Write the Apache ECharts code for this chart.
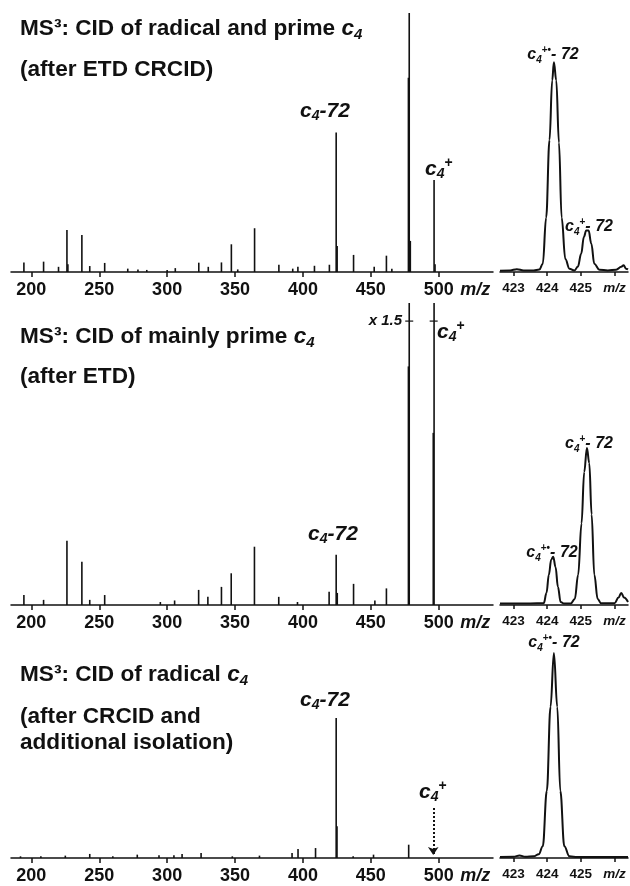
<!DOCTYPE html>
<html>
<head>
<meta charset="utf-8">
<title>MS3 CID of c4 ions</title>
<script src="https://cdn.jsdelivr.net/npm/echarts@6/dist/echarts.min.js"></script>
<style>
  html, body { margin: 0; padding: 0; background: #fff; }
  #main { width: 630px; height: 886px; }
</style>
</head>
<body>
<div id="main"></div>
<script type="text/javascript">
// tick labels
var mainTicks = [200, 250, 300, 350, 400, 450, 500];
var mainUnitAt = 527;              // "m/z" written after 500
var zoomTicks = [423, 424, 425, 426];  // 426 is written as "m/z"

// panel 1: CID of radical and prime c4 (after ETD CRCID)
var p1Mz  = [194.5, 209, 220, 226.2, 226.9, 237.2, 243, 254, 271, 278.5, 285, 300, 306, 323.3, 330.3, 340, 347.3, 352, 364.4, 382.3, 392.5, 396.3, 408.5, 419.5, 424.5, 425.2, 437.3, 452.5, 461.5, 465.5, 477.7, 478.3, 479.1, 496.6, 497.3];
var p1Int = [3.7, 4, 2, 16.2, 3, 14.3, 2.3, 3.5, 1.3, 1, 0.8, 0.8, 1.5, 3.6, 2, 3.7, 10.7, 1, 16.9, 2.8, 1.3, 2, 2.4, 2.8, 53.9, 10, 6.6, 2, 6.3, 1.3, 75, 100, 12, 35.5, 3];

// panel 2: CID of mainly prime c4 (after ETD)
var p2Mz  = [194.5, 209, 226.2, 237.2, 243, 254, 295, 305.5, 323.2, 330, 340, 347.2, 364.3, 382.2, 396, 419.3, 424.5, 425.3, 437.3, 453, 461.5, 477.7, 478.3, 496, 496.6];
var p2Int = [3.3, 1.7, 21.3, 14.3, 1.7, 3.3, 1, 1.5, 5, 2.7, 6, 10.5, 19.3, 2.7, 1, 4.4, 16.6, 4, 7, 1.5, 5.5, 79, 150, 57, 150];
var p2Break = [[478.3, 94], [496.3, 94]];

// panel 3: CID of radical c4 (after CRCID and additional isolation)
var p3Mz  = [192, 207, 225, 243, 260, 278, 294, 305, 311, 325, 348, 368, 392, 396.4, 409.3, 424.5, 425.1, 437, 452, 477.9];
var p3Int = [1.2, 1.2, 1.7, 2.9, 1.2, 2.4, 1.9, 1.9, 2.9, 3.6, 1.2, 1.7, 3.6, 6.4, 7.1, 100, 22.6, 1.2, 2.4, 9.5];
var p3Arrow = [496, 35.7, 2.1];   // m/z, from, to

// zoomed profiles around m/z 424-425
var z1Mz  = [422.6, 422.9, 423.1, 423.3, 423.6, 423.77, 423.87, 423.97, 424.07, 424.15, 424.2, 424.27, 424.35, 424.43, 424.54, 424.66, 424.81, 424.91, 425.01, 425.09, 425.16, 425.23, 425.31, 425.4, 425.55, 425.8, 426.05, 426.2, 426.27, 426.34, 426.4];
var z1Int = [0.5, 0.6, 1.1, 0.6, 0.6, 1, 3.2, 21, 51, 74, 81, 74, 50, 21, 5, 1.3, 0.6, 2, 7, 13.5, 16, 16, 11, 3.2, 0.9, 0.6, 0.9, 2, 2.6, 1.3, 1];

var z2Mz  = [422.6, 423.0, 423.5, 423.9, 423.98, 424.05, 424.12, 424.18, 424.25, 424.32, 424.4, 424.5, 424.7, 424.82, 424.92, 425.02, 425.1, 425.18, 425.25, 425.32, 425.4, 425.5, 425.6, 426.0, 426.12, 426.2, 426.28, 426.4];
var z2Int = [0.5, 0.5, 0.5, 0.6, 4, 10, 15, 16, 12.5, 6, 1, 0.5, 0.5, 2, 10, 27, 44, 52, 47, 30, 10, 2, 0.6, 0.6, 2.5, 4, 2.5, 1];

var z3Mz  = [422.6, 423.0, 423.18, 423.35, 423.6, 423.75, 423.87, 423.99, 424.1, 424.2, 424.3, 424.39, 424.51, 424.66, 424.9, 425.5, 426.4];
var z3Int = [0.5, 0.6, 1.2, 0.6, 0.8, 1.8, 5.6, 32, 72, 97.6, 72, 32, 5.6, 0.8, 0.5, 0.5, 0.5];

var FONT = '"Liberation Sans", Arial, sans-serif';
var INK = '#111';

function zip(a, b) {
    var out = [];
    for (var i = 0; i < a.length; i++) out.push([a[i], b[i]]);
    return out;
}

var rows = [
    { top: 13,  height: 259, ymax: 100 },
    { top: 303, height: 302, ymax: 100 },
    { top: 648, height: 210, ymax: 150 }
];

var grids = [], xAxes = [], yAxes = [];
rows.forEach(function (r, i) {
    grids.push({ left: 11, width: 482, top: r.top, height: r.height });
    grids.push({ left: 500, width: 128, top: r.top, height: r.height });
    // main axis
    xAxes.push({
        type: 'value', gridIndex: 2 * i, min: 185, max: 540,
        axisLine: { lineStyle: { color: INK, width: 1.5 } },
        axisTick: { customValues: mainTicks, length: 5, lineStyle: { color: INK, width: 1.5 } },
        axisLabel: {
            customValues: mainTicks.concat([mainUnitAt]), margin: 9,
            color: INK, fontFamily: FONT, fontSize: 18, fontWeight: 'bold',
            formatter: function (v) { return v === mainUnitAt ? '{u|m/z}' : String(v); },
            rich: { u: { fontFamily: FONT, fontSize: 18, fontWeight: 'bold', fontStyle: 'italic', color: INK } }
        },
        splitLine: { show: false }
    });
    // zoom axis
    xAxes.push({
        type: 'value', gridIndex: 2 * i + 1, min: 422.6, max: 426.4,
        axisLine: { lineStyle: { color: INK, width: 1.5 } },
        axisTick: { customValues: zoomTicks, length: 4, lineStyle: { color: INK, width: 1.5 } },
        axisLabel: {
            customValues: zoomTicks, margin: 9,
            color: INK, fontFamily: FONT, fontSize: 13.5, fontWeight: 'bold',
            formatter: function (v) { return v === 426 ? '{u|m/z}' : String(v); },
            rich: { u: { fontFamily: FONT, fontSize: 13.5, fontWeight: 'bold', fontStyle: 'italic', color: INK } }
        },
        splitLine: { show: false }
    });
    yAxes.push({ type: 'value', gridIndex: 2 * i, min: 0, max: r.ymax, show: false });
    yAxes.push({ type: 'value', gridIndex: 2 * i + 1, min: 0, max: 100, show: false });
});

function sticks(idx, mz, inten) {
    return {
        type: 'bar', xAxisIndex: idx, yAxisIndex: idx, data: zip(mz, inten),
        barWidth: 1.6, itemStyle: { color: INK }, silent: true
    };
}
function profile(idx, mz, inten) {
    return {
        type: 'line', xAxisIndex: idx, yAxisIndex: idx, data: zip(mz, inten),
        smooth: 0.4, smoothMonotone: 'x', symbol: 'none',
        lineStyle: { color: INK, width: 2 }, silent: true
    };
}

var s3 = sticks(4, p3Mz, p3Int);
s3.markLine = {
    silent: true, symbol: ['none', 'arrow'], symbolSize: 8,
    label: { show: false },
    lineStyle: { type: 'dotted', color: INK, width: 2 },
    data: [[{ coord: [p3Arrow[0], p3Arrow[1]] }, { coord: [p3Arrow[0], p3Arrow[2]] }]]
};

var series = [
    sticks(0, p1Mz, p1Int), profile(1, z1Mz, z1Int),
    sticks(2, p2Mz, p2Int), profile(3, z2Mz, z2Int),
    s3, profile(5, z3Mz, z3Int),
    {
        type: 'scatter', xAxisIndex: 2, yAxisIndex: 2, data: p2Break,
        symbol: 'rect', symbolSize: [8, 1.5], itemStyle: { color: INK }, silent: true
    }
];

// text styles
function richSet(size) {
    var sub = Math.round(size * 0.65);
    return {
        t:   { fontFamily: FONT, fontSize: size, fontWeight: 'bold', color: INK, lineHeight: size + 4 },
        i:   { fontFamily: FONT, fontSize: size, fontWeight: 'bold', fontStyle: 'italic', color: INK, lineHeight: size + 4 },
        sub: { fontFamily: FONT, fontSize: sub, fontWeight: 'bold', fontStyle: 'italic', color: INK, lineHeight: sub - 4, verticalAlign: 'bottom' },
        sup: { fontFamily: FONT, fontSize: sub, fontWeight: 'bold', color: INK, lineHeight: sub + 4, verticalAlign: 'top' }
    };
}
function label(x, y, text, size, align) {
    return {
        type: 'text', x: x, y: y, silent: true,
        style: { text: text, rich: richSet(size), align: align || 'left', verticalAlign: 'middle', fill: INK }
    };
}

var C4_72 = '{i|c}{sub|4}{i|-72}';
var C4P = '{i|c}{sub|4}{sup|+}';
var RAD_72 = '{i|c}{sub|4}{sup|+•}{i|- 72}';
var PRI_72 = '{i|c}{sub|4}{sup|+}{i|- 72}';

var graphics = [
    label(20, 29, '{t|MS³: CID of radical and prime }{i|c}{sub|4}', 22.6),
    label(20, 70, '{t|(after ETD CRCID)}', 22.6),
    label(325, 111, C4_72, 21, 'center'),
    label(425, 169, C4P, 21),
    label(553, 55, RAD_72, 16, 'center'),
    label(589, 227, PRI_72, 16, 'center'),

    label(20, 337, '{t|MS³: CID of mainly prime }{i|c}{sub|4}', 22.6),
    label(20, 377, '{t|(after ETD)}', 22.6),
    label(333, 534, C4_72, 21, 'center'),
    label(402, 321, '{i|x 1.5}', 15, 'right'),
    label(437, 332, C4P, 21),
    label(589, 444, PRI_72, 16, 'center'),
    label(552, 553, RAD_72, 16, 'center'),

    label(20, 675, '{t|MS³: CID of radical }{i|c}{sub|4}', 22.6),
    label(20, 717, '{t|(after CRCID and}', 22.6),
    label(20, 743, '{t|additional isolation)}', 22.6),
    label(325, 700, C4_72, 21, 'center'),
    label(419, 792, C4P, 21),
    label(554, 643, RAD_72, 16, 'center')
];

var myChart = echarts.init(document.getElementById('main'));
myChart.setOption({
    animation: false,
    backgroundColor: '#fff',
    grid: grids,
    xAxis: xAxes,
    yAxis: yAxes,
    series: series,
    graphic: graphics
});
</script>
</body>
</html>
